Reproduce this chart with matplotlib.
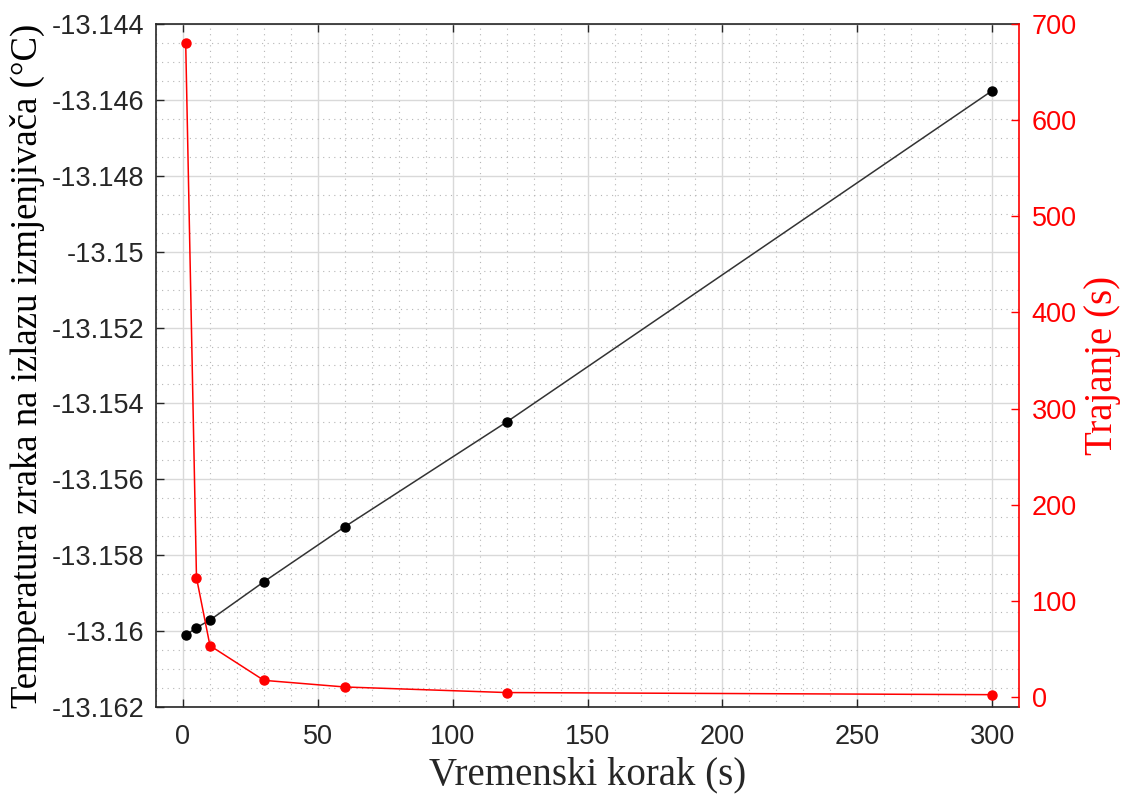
import numpy as np
import matplotlib
matplotlib.use("Agg")
import matplotlib.pyplot as plt
from matplotlib.ticker import MultipleLocator

# time step (s)
korak = [1, 5, 10, 30, 60, 120, 300]
# outlet air temperature (deg C)
temperatura = [-13.16011, -13.15991, -13.15971, -13.15870, -13.15725, -13.15449, -13.14576]
# computation duration (s)
trajanje = [680.6, 124.1, 53.4, 17.3, 10.4, 4.6, 2.4]

xticks = [0, 50, 100, 150, 200, 250, 300]
yticks_left = [-13.162, -13.16, -13.158, -13.156, -13.154, -13.152, -13.15, -13.148, -13.146, -13.144]
yticks_right = [0, 100, 200, 300, 400, 500, 600, 700]

dark = "#262626"
red = "#ff0000"

fig = plt.figure(figsize=(11.29, 7.94), dpi=100)
ax1 = fig.add_axes([0.1382, 0.1096, 0.9026 - 0.1382, 0.9698 - 0.1096])
ax2 = ax1.twinx()

ax1.plot(korak, temperatura, color="#333333", lw=1.1, marker="o", ms=6.5,
         mfc="black", mec="black", zorder=3)
ax2.plot(korak, trajanje, color=red, lw=1.1, marker="o", ms=6.5,
         mfc=red, mec=red, zorder=3)

ax1.set_xlim(-10, 310)
ax1.set_ylim(-13.162, -13.144)
ax2.set_ylim(-10.4, 700)

ax1.set_xticks(xticks)
ax1.set_yticks(yticks_left)
ax1.set_yticklabels([f"{v:g}" for v in yticks_left])
ax2.set_yticks(yticks_right)
ax1.xaxis.set_minor_locator(MultipleLocator(10))
ax1.yaxis.set_minor_locator(MultipleLocator(0.0005))

ax1.grid(which="major", color="#d9d9d9", lw=1.0, ls="-")
ax1.grid(which="minor", color="#b5b5b5", lw=0.8, ls=(0, (1, 4)))
ax1.set_axisbelow(True)

tickfont = dict(family="Liberation Sans", size=19.5)
ax1.tick_params(axis="both", which="major", direction="in", length=5.5, width=1.0,
                colors=dark, top=True, right=False)
ax1.tick_params(axis="both", which="minor", length=0, top=True, right=False)
ax1.tick_params(axis="x", pad=12)
ax1.tick_params(axis="y", pad=8.5)
ax2.tick_params(axis="y", which="major", direction="in", length=5.5, width=1.0,
                colors=red, pad=9)
ax2.tick_params(axis="y", which="minor", length=0)
for lab in ax1.get_xticklabels() + ax1.get_yticklabels() + ax2.get_yticklabels():
    lab.set_fontfamily(tickfont["family"])
    lab.set_fontsize(tickfont["size"])

for name in ["left", "bottom", "top"]:
    ax1.spines[name].set_color(dark)
    ax1.spines[name].set_linewidth(1.2)
    ax2.spines[name].set_visible(False)
ax1.spines["right"].set_visible(False)
ax2.spines["right"].set_color(red)
ax2.spines["right"].set_linewidth(1.2)

ax1.set_xlabel("Vremenski korak (s)", color=dark, labelpad=5,
               family="Liberation Serif", size=28)
ax1.set_ylabel("Temperatura zraka na izlazu izmjenjivača (°C)", color="black", labelpad=5,
               family="Liberation Serif", size=26.5)
ax2.set_ylabel("Trajanje (s)", color=red, labelpad=5, family="Liberation Serif", size=28)

fig.savefig("out.png", dpi=100, facecolor="white")
